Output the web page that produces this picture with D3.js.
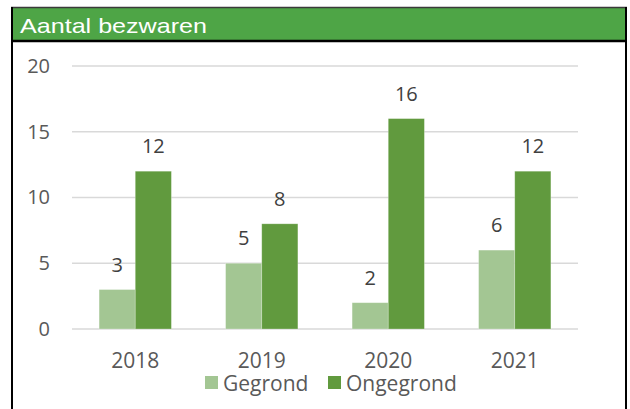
<!DOCTYPE html>
<html>
<head>
<meta charset="utf-8">
<script src="https://cdn.jsdelivr.net/npm/d3@7"></script>
<style>
  body { margin: 0; background: #fff; }
</style>
</head>
<body>
<div id="chart"></div>
<script>
// Data
const years = ["2018", "2019", "2020", "2021"];
const seriesNames = ["Gegrond", "Ongegrond"];
const gegrond = [3, 5, 2, 6];
const ongegrond = [12, 8, 16, 12];
const yTicks = [0, 5, 10, 15, 20];

const colors = { Gegrond: "#a3c693", Ongegrond: "#619a3e" };
const textGray = "#595959";

const W = 630, H = 409;

const svg = d3.select("#chart")
  .append("svg")
  .attr("width", W)
  .attr("height", H);

// Frame + title band
svg.append("rect")
  .attr("x", 12).attr("y", 8)
  .attr("width", 614).attr("height", 33)
  .attr("fill", "#4ea546");

svg.append("line")
  .attr("x1", 11).attr("x2", 627).attr("y1", 7.5).attr("y2", 7.5)
  .attr("stroke", "#3a3a3a").attr("stroke-width", 1.5);
svg.append("line")
  .attr("x1", 11).attr("x2", 627).attr("y1", 41).attr("y2", 41)
  .attr("stroke", "#000").attr("stroke-width", 2.5);
svg.append("line")
  .attr("x1", 12).attr("x2", 12).attr("y1", 7).attr("y2", H)
  .attr("stroke", "#000").attr("stroke-width", 2);
svg.append("line")
  .attr("x1", 626).attr("x2", 626).attr("y1", 7).attr("y2", H)
  .attr("stroke", "#000").attr("stroke-width", 2);

svg.append("text")
  .attr("x", 20).attr("y", 33)
  .attr("fill", "#fff")
  .attr("font-family", "'Liberation Sans', Arial, sans-serif")
  .attr("font-size", 21)
  .attr("textLength", 187)
  .attr("lengthAdjust", "spacingAndGlyphs")
  .text("Aantal bezwaren");

// Scales
const x = d3.scaleBand()
  .domain(years)
  .range([72, 578])
  .padding(0);

const xs = d3.scaleBand()
  .domain(seriesNames)
  .range([0, x.bandwidth()])
  .paddingInner(0)
  .paddingOuter(0.75);

const y = d3.scaleLinear()
  .domain([0, 20])
  .range([329, 66]);

// Gridlines
svg.append("g")
  .selectAll("line")
  .data(yTicks)
  .enter()
  .append("line")
  .attr("x1", 72).attr("x2", 578)
  .attr("y1", d => y(d)).attr("y2", d => y(d))
  .attr("stroke", "#d9d9d9")
  .attr("stroke-width", 1.5);

// Y axis labels
const yAxis = svg.append("g")
  .attr("transform", "translate(58,0)")
  .call(d3.axisLeft(y).tickValues(yTicks).tickSize(0).tickPadding(8));
yAxis.select(".domain").remove();
yAxis.selectAll("text")
  .attr("fill", textGray)
  .attr("font-family", "'Open Sans', sans-serif")
  .attr("font-size", 20);

// X axis labels
const xAxis = svg.append("g")
  .attr("transform", "translate(0,329)")
  .call(d3.axisBottom(x).tickSize(0).tickPadding(0));
xAxis.select(".domain").remove();
xAxis.selectAll("text")
  .attr("fill", textGray)
  .attr("font-family", "'Open Sans', sans-serif")
  .attr("font-size", 21)
  .attr("dy", null)
  .attr("y", 39);

// Bars
const rows = years.map((yr, i) => ({
  year: yr,
  values: [
    { key: "Gegrond", value: gegrond[i] },
    { key: "Ongegrond", value: ongegrond[i] }
  ]
}));

const groups = svg.selectAll(".year")
  .data(rows)
  .enter()
  .append("g")
  .attr("class", "year")
  .attr("transform", d => `translate(${x(d.year)},0)`);

groups.selectAll("rect")
  .data(d => d.values)
  .enter()
  .append("rect")
  .attr("x", d => xs(d.key))
  .attr("y", d => y(d.value))
  .attr("width", xs.bandwidth())
  .attr("height", d => y(0) - y(d.value))
  .attr("fill", d => colors[d.key])
  .attr("stroke", "#ffffff")
  .attr("stroke-opacity", 0.35)
  .attr("stroke-width", 0.75);

// Data labels
groups.selectAll(".lbl")
  .data(d => d.values)
  .enter()
  .append("text")
  .attr("class", "lbl")
  .attr("x", d => xs(d.key) + xs.bandwidth() / 2)
  .attr("y", d => y(d.value) - 18)
  .attr("text-anchor", "middle")
  .attr("fill", "#404040")
  .attr("font-family", "'Open Sans', sans-serif")
  .attr("font-size", 20)
  .text(d => d.value);

// Legend
const legend = svg.append("g");
const legendX = [205, 328];
seriesNames.forEach((name, i) => {
  legend.append("rect")
    .attr("x", legendX[i]).attr("y", 376)
    .attr("width", 13).attr("height", 13)
    .attr("fill", colors[name]);
  legend.append("text")
    .attr("x", legendX[i] + 18).attr("y", 391)
    .attr("fill", textGray)
    .attr("font-family", "'Open Sans', sans-serif")
    .attr("font-size", 21)
    .text(name);
});
</script>
</body>
</html>
